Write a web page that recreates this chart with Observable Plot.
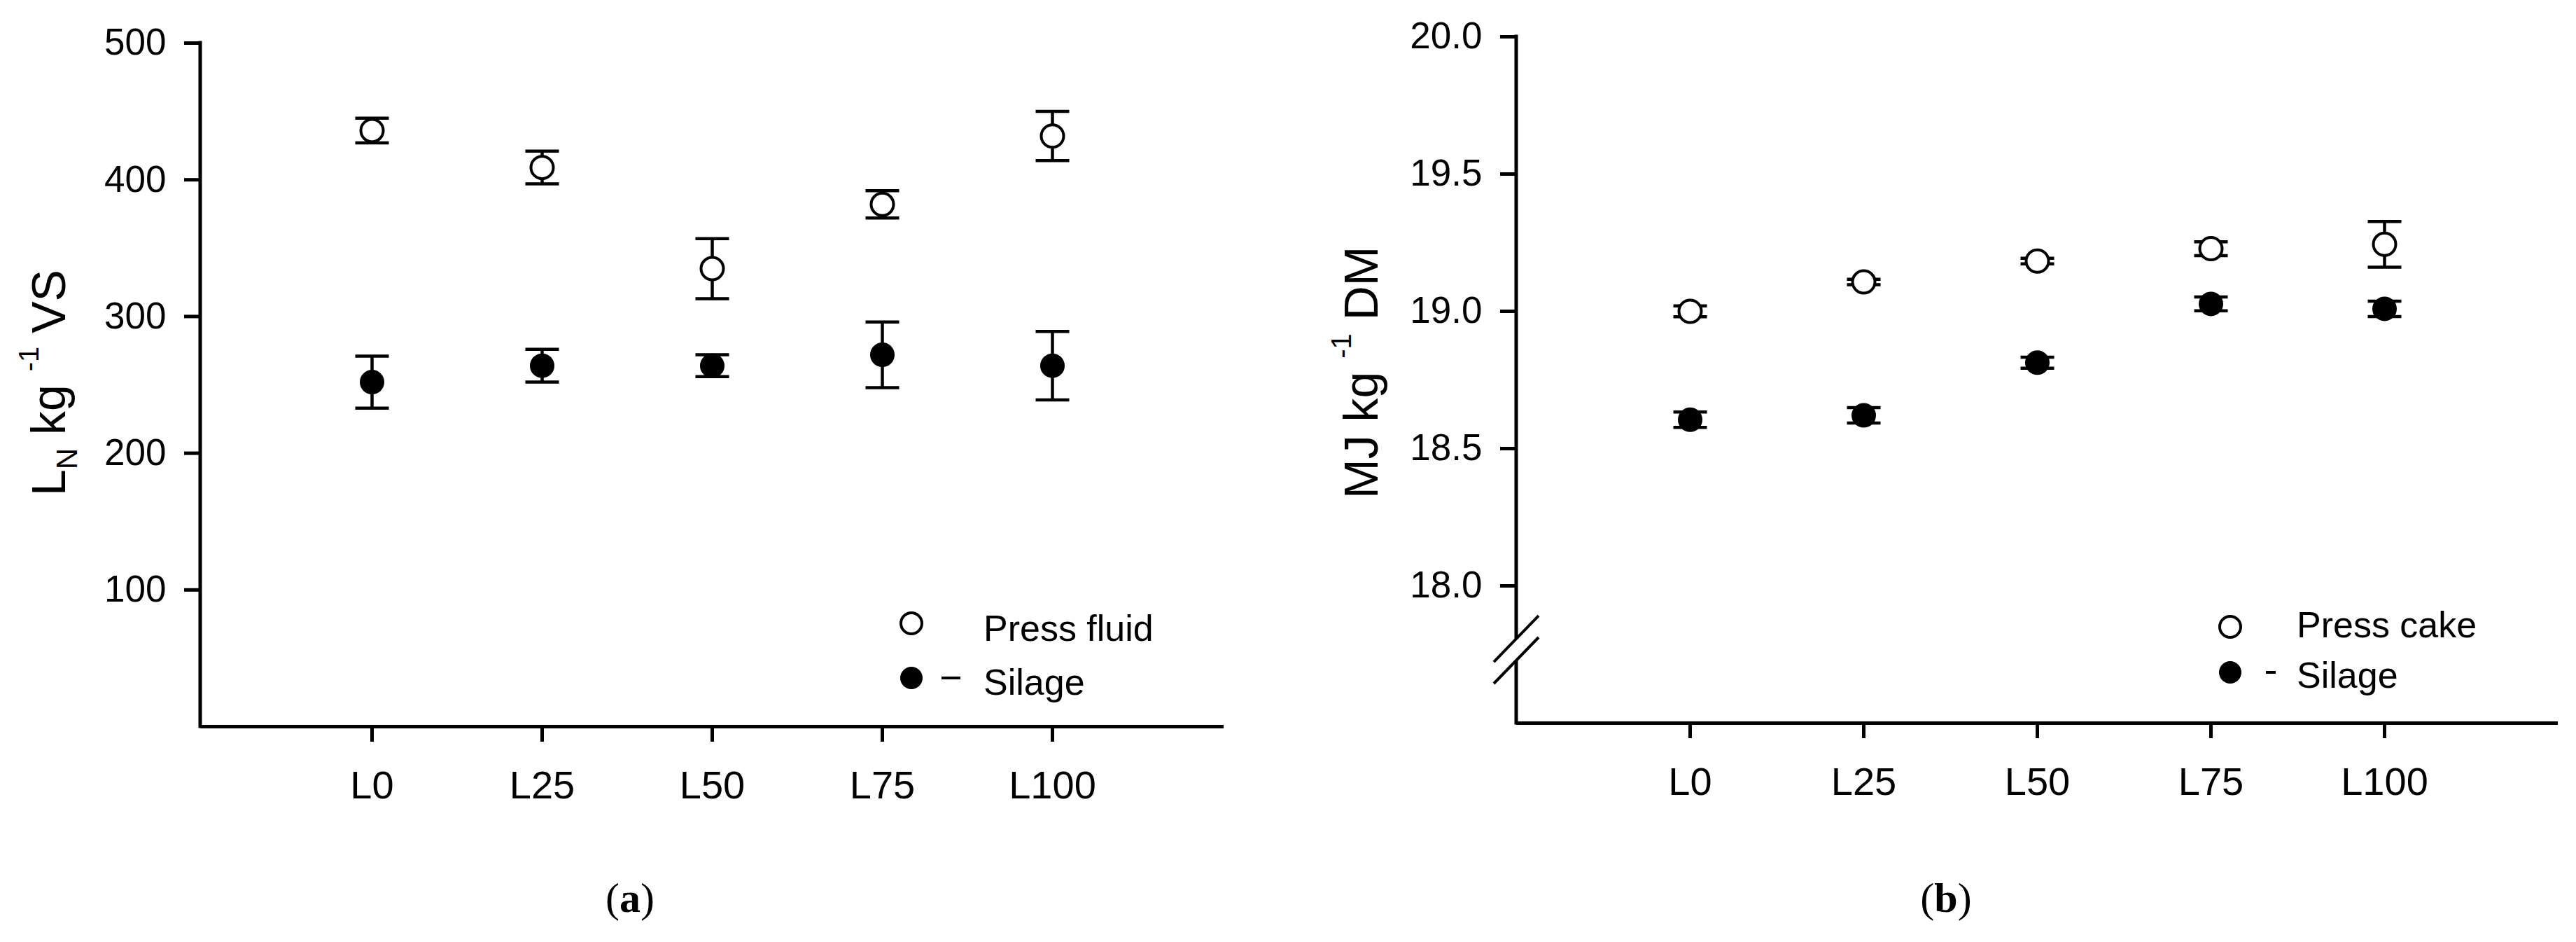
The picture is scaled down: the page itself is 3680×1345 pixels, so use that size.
<!DOCTYPE html>
<html>
<head>
<meta charset="utf-8">
<script src="https://cdn.jsdelivr.net/npm/d3@7"></script>
<script src="https://cdn.jsdelivr.net/npm/@observablehq/plot@0.6"></script>
<style>
  html, body { margin: 0; padding: 0; background: #fff; }
  #wrap { display: flex; width: 3680px; height: 1345px; }
  #wrap svg { max-width: none !important; }
</style>
</head>
<body>
<div id="wrap"></div>
<script>
// ---- data ----
const categories = ["L0", "L25", "L50", "L75", "L100"];
// panel (a): methane yield, L_N kg-1 VS
const pressFluidMean = [436, 409, 335, 382, 432];
const pressFluidErr  = [9, 12, 22, 10, 18];
const silageAMean    = [252, 264, 264, 272, 264];
const silageAErr     = [19, 12, 8, 24, 25];
const yTicksA = [100, 200, 300, 400, 500];
// panel (b): energy, MJ kg-1 DM
const pressCakeMean = [19.0, 19.107, 19.183, 19.228, 19.244];
const pressCakeErr  = [0.02, 0.01, 0.01, 0.025, 0.083];
const silageBMean   = [18.605, 18.621, 18.813, 19.027, 19.009];
const silageBErr    = [0.028, 0.028, 0.02, 0.025, 0.028];
const yTicksB = [18.0, 18.5, 19.0, 19.5, 20.0];

const FONT = "'Liberation Sans', Arial, sans-serif";

// horizontal cap symbol for error bars (half-length = r)
const capSymbol = {
  draw(ctx, size) {
    const w = Math.sqrt(size / Math.PI);
    ctx.moveTo(-w, 0);
    ctx.lineTo(w, 0);
  }
};

function rows(means, errs) {
  return categories.map((c, i) => ({cat: c, v: means[i], e: errs[i]}));
}

function makePanel(cfg) {
  const open = rows(cfg.openMean, cfg.openErr);
  const fill = rows(cfg.fillMean, cfg.fillErr);
  const all = open.concat(fill);
  const errMarks = [
    Plot.ruleX(all, {x: "cat", y1: d => d.v - d.e, y2: d => d.v + d.e, stroke: "black", strokeWidth: 4.5}),
    Plot.dot(all, {x: "cat", y: d => d.v + d.e, symbol: capSymbol, r: 24, stroke: "black", strokeWidth: 4.5, fill: "none"}),
    Plot.dot(all, {x: "cat", y: d => d.v - d.e, symbol: capSymbol, r: 24, stroke: "black", strokeWidth: 4.5, fill: "none"})
  ];
  const plot = Plot.plot({
    width: 1840,
    height: 1345,
    marginLeft: cfg.marginLeft,
    marginRight: cfg.marginRight,
    marginTop: cfg.marginTop,
    marginBottom: cfg.marginBottom,
    style: {fontFamily: FONT, color: "black", background: "white", overflow: "visible"},
    x: {type: "point", domain: categories, padding: 1, label: null},
    y: {domain: cfg.yDomain, label: null},
    marks: [
      Plot.axisY({ticks: cfg.yTicks, tickFormat: cfg.yFormat, tickSize: 23, tickPadding: 26, fontSize: 53, strokeWidth: 5, label: null}),
      Plot.axisX({tickSize: 22, tickPadding: 41, fontSize: 56, strokeWidth: 5, label: null}),
      Plot.ruleY([cfg.yDomain[0]], {stroke: "black", strokeWidth: 5}),
      ...errMarks,
      Plot.dot(open, {x: "cat", y: "v", r: 16, fill: "white", stroke: "black", strokeWidth: 4}),
      Plot.dot(fill, {x: "cat", y: "v", r: 16.5, fill: "black", stroke: "black", strokeWidth: 2})
    ]
  });

  const svg = d3.select(plot);
  const y = plot.scale("y");
  const xL = cfg.marginLeft;

  // y axis line (optionally broken)
  if (cfg.breakAt) {
    const [bTop, bBot] = cfg.breakAt;
    svg.append("line").attr("x1", xL).attr("x2", xL)
      .attr("y1", y.apply(cfg.yDomain[1]) - 2.5).attr("y2", y.apply(bTop))
      .attr("stroke", "black").attr("stroke-width", 5);
    svg.append("line").attr("x1", xL).attr("x2", xL)
      .attr("y1", y.apply(bBot)).attr("y2", y.apply(cfg.yDomain[0]) + 2.5)
      .attr("stroke", "black").attr("stroke-width", 5);
    for (const v of cfg.breakAt) {
      const cy = y.apply(v);
      svg.append("line").attr("x1", xL + 32).attr("y1", cy - 33)
        .attr("x2", xL - 32).attr("y2", cy + 33)
        .attr("stroke", "black").attr("stroke-width", 4);
    }
  } else {
    svg.append("line").attr("x1", xL).attr("x2", xL)
      .attr("y1", y.apply(cfg.yDomain[1]) - 2.5).attr("y2", y.apply(cfg.yDomain[0]) + 2.5)
      .attr("stroke", "black").attr("stroke-width", 5);
  }

  // rotated y-axis title with sub/superscripts (starts at the bottom)
  const t = svg.append("text")
    .attr("transform", `translate(${cfg.titleX},${cfg.titleY}) rotate(-90)`)
    .attr("text-anchor", "start")
    .attr("font-family", FONT).attr("font-size", 68).attr("fill", "black");
  for (const part of cfg.title) {
    const ts = t.append("tspan").text(part.t);
    if (part.size) ts.attr("font-size", part.size);
    if (part.dy) ts.attr("dy", part.dy);
  }

  // legend
  const L = cfg.legend;
  svg.append("circle").attr("cx", L.cx).attr("cy", L.y1).attr("r", 15)
    .attr("fill", "white").attr("stroke", "black").attr("stroke-width", 4);
  svg.append("circle").attr("cx", L.cx).attr("cy", L.y2).attr("r", 16)
    .attr("fill", "black");
  svg.append("line").attr("x1", L.dash[0]).attr("x2", L.dash[1])
    .attr("y1", L.y2).attr("y2", L.y2).attr("stroke", "black").attr("stroke-width", 4);
  svg.append("text").attr("x", L.tx).attr("y", L.b1).attr("font-family", FONT)
    .attr("text-anchor", "start")
    .attr("font-size", 52).attr("fill", "black").text(L.label1);
  svg.append("text").attr("x", L.tx).attr("y", L.b2).attr("font-family", FONT)
    .attr("text-anchor", "start")
    .attr("font-size", 52).attr("fill", "black").text(L.label2);

  // panel letter
  const p = svg.append("text").attr("x", cfg.letterX).attr("y", 1302)
    .attr("text-anchor", "middle").attr("font-family", "'Liberation Serif', 'Times New Roman', serif")
    .attr("font-size", 60).attr("fill", "black");
  p.append("tspan").text("(");
  p.append("tspan").attr("font-weight", "bold").text(cfg.letter);
  p.append("tspan").text(")");

  return plot;
}

const panelA = makePanel({
  openMean: pressFluidMean, openErr: pressFluidErr,
  fillMean: silageAMean, fillErr: silageAErr,
  yDomain: [0, 500], yTicks: yTicksA, yFormat: d3.format("d"),
  marginLeft: 286, marginRight: 92, marginTop: 61, marginBottom: 308,
  titleX: 93, titleY: 708,
  title: [
    {t: "L"}, {t: "N", size: 42, dy: 17}, {t: " kg", dy: -17},
    {t: " "}, {t: "-1", size: 40, dy: -38}, {t: " VS", dy: 38}
  ],
  legend: {cx: 1302, y1: 890, y2: 968, dash: [1345, 1372], tx: 1405, b1: 915, b2: 992,
           label1: "Press fluid", label2: "Silage"},
  letter: "a", letterX: 900
});

const panelB = makePanel({
  openMean: pressCakeMean, openErr: pressCakeErr,
  fillMean: silageBMean, fillErr: silageBErr,
  yDomain: [17.5, 20], yTicks: yTicksB, yFormat: d3.format(".1f"),
  marginLeft: 326, marginRight: 26, marginTop: 52, marginBottom: 313,
  breakAt: [17.806, 17.727],
  titleX: 128, titleY: 712,
  title: [
    {t: "MJ kg"}, {t: " "}, {t: "-1", size: 40, dy: -38}, {t: " DM", dy: 38}
  ],
  legend: {cx: 1346, y1: 895, y2: 960, dash: [1397, 1411], tx: 1441, b1: 910, b2: 982,
           label1: "Press cake", label2: "Silage"},
  letter: "b", letterX: 940
});

document.getElementById("wrap").append(panelA, panelB);
</script>
</body>
</html>
